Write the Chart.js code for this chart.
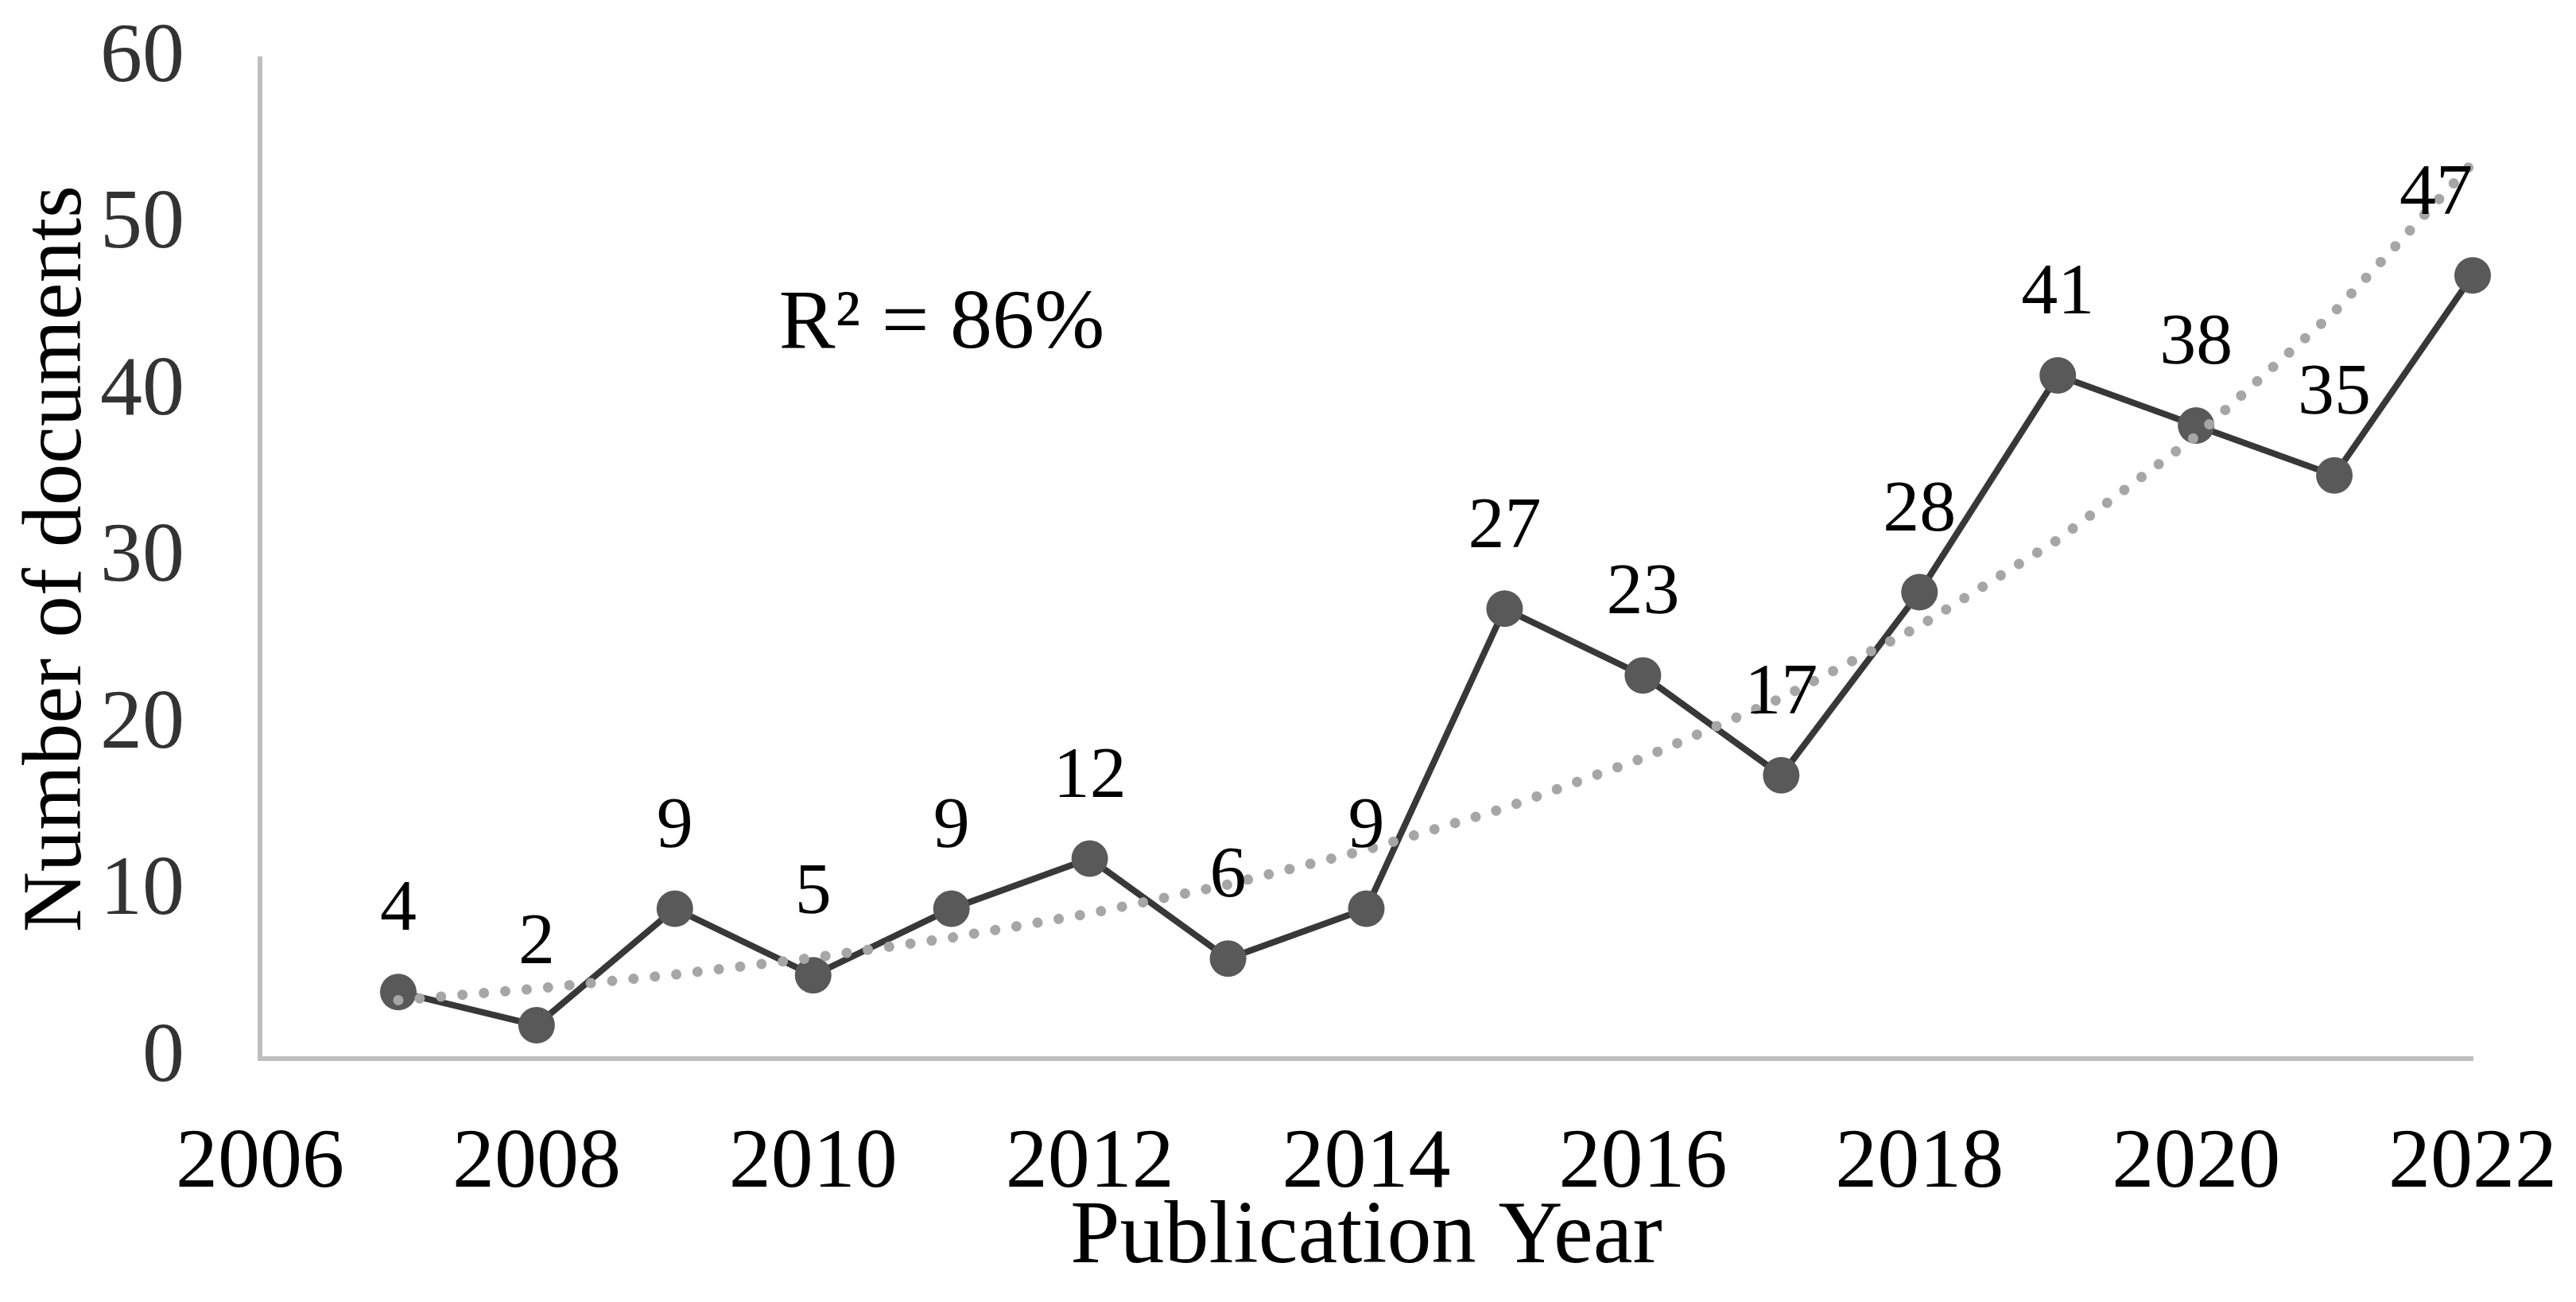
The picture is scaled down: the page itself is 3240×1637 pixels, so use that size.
<!DOCTYPE html>
<html lang="en">

<head>
    <meta charset="UTF-8">
    <meta name="viewport" content="width=device-width, initial-scale=1.0">
    <title>Number of documents per year</title>

    <script src="https://cdn.jsdelivr.net/npm/chart.js"></script>

    <style>
        html, body {
            margin: 0;
            padding: 0;
            background: #ffffff;
        }

        #grafico {
            display: block;
        }
    </style>
</head>

<body>
    <canvas id="grafico" width="3240" height="1637"></canvas>
</body>

<script>
    // data
    var anos = [2007, 2008, 2009, 2010, 2011, 2012, 2013, 2014, 2015, 2016, 2017, 2018, 2019, 2020, 2021, 2022];
    var documentos = [4, 2, 9, 5, 9, 12, 6, 9, 27, 23, 17, 28, 41, 38, 35, 47];
    var ticksX = [2006, 2008, 2010, 2012, 2014, 2016, 2018, 2020, 2022];
    var ticksY = [0, 10, 20, 30, 40, 50, 60];
    var textoR2 = 'R² = 86%';
    var posR2 = { x: 2010.93, y: 44.0 };

    var fonte = 'Liberation Serif, Times New Roman, serif';

    // exponential trendline (least squares on ln y), like the spreadsheet one
    function tendenciaExp(xs, ys) {
        var n = xs.length;
        var mx = 0, ml = 0;
        for (var i = 0; i < n; i++) {
            mx += xs[i];
            ml += Math.log(ys[i]);
        }
        mx = mx / n;
        ml = ml / n;
        var sxy = 0, sxx = 0;
        for (var j = 0; j < n; j++) {
            sxy += (xs[j] - mx) * (Math.log(ys[j]) - ml);
            sxx += (xs[j] - mx) * (xs[j] - mx);
        }
        var b = sxy / sxx;
        var a = ml - b * mx;
        return xs.map(function (x) { return Math.exp(a + b * x); });
    }

    var tendencia = tendenciaExp(anos, documentos);

    var pontos = anos.map(function (a, i) { return { x: a, y: documentos[i] }; });
    var pontosTendencia = anos.map(function (a, i) { return { x: a, y: tendencia[i] }; });

    // numbers above each point and the R² note
    var rotulos = {
        id: 'rotulos',
        afterDatasetsDraw: function (chart) {
            var ctx = chart.ctx;
            var meta = chart.getDatasetMeta(1);
            var direita = chart.chartArea.right;
            ctx.save();
            ctx.fillStyle = '#000000';
            ctx.textAlign = 'center';
            ctx.textBaseline = 'middle';
            ctx.font = '92px ' + fonte;
            meta.data.forEach(function (p, i) {
                var txt = String(documentos[i]);
                var meia = ctx.measureText(txt).width / 2;
                // keep the label inside the plot, like the last one in the picture
                var x = Math.min(p.x, direita - meia);
                ctx.fillText(txt, x, p.y - 102);
            });

            ctx.font = '106px ' + fonte;
            ctx.fillText(textoR2, chart.scales.x.getPixelForValue(posR2.x), chart.scales.y.getPixelForValue(posR2.y));
            ctx.restore();
        }
    };

    var ctx = document.getElementById('grafico').getContext('2d');
    var grafico = new Chart(ctx, {
        type: 'line',
        data: {
            datasets: [{
                label: 'Trend',
                data: pontosTendencia,
                borderColor: '#a6a6a6',
                borderWidth: 13,
                borderDash: [0.01, 27],
                borderCapStyle: 'round',
                pointRadius: 0,
                tension: 0,
                fill: false,
                clip: false,
                order: 0
            }, {
                label: 'Number of documents',
                data: pontos,
                borderColor: '#383838',
                borderWidth: 8,
                pointRadius: 23,
                pointBackgroundColor: '#595959',
                pointBorderWidth: 0,
                tension: 0,
                fill: false,
                clip: false,
                order: 1
            }]
        },
        options: {
            responsive: false,
            animation: false,
            layout: {
                padding: { top: 74, right: 130, bottom: 0, left: 0 }
            },
            plugins: {
                legend: { display: false },
                tooltip: { enabled: false }
            },
            scales: {
                x: {
                    type: 'linear',
                    min: ticksX[0],
                    max: ticksX[ticksX.length - 1],
                    afterBuildTicks: function (scale) {
                        scale.ticks = ticksX.map(function (v) { return { value: v }; });
                    },
                    afterFit: function (scale) {
                        scale.height = 306;
                        scale.paddingLeft = 0;
                        scale.paddingRight = 0;
                    },
                    grid: { display: false, drawTicks: false },
                    border: { display: true, color: '#bfbfbf', width: 6 },
                    ticks: {
                        padding: 70,
                        color: '#000000',
                        maxRotation: 0,
                        autoSkip: false,
                        font: { family: fonte, size: 106 },
                        callback: function (v) { return String(v); }
                    },
                    title: {
                        display: true,
                        text: 'Publication Year',
                        color: '#000000',
                        font: { family: fonte, size: 112 },
                        padding: { top: 0, bottom: 12 }
                    }
                },
                y: {
                    min: ticksY[0],
                    max: ticksY[ticksY.length - 1],
                    afterBuildTicks: function (scale) {
                        scale.ticks = ticksY.map(function (v) { return { value: v }; });
                    },
                    afterFit: function (scale) {
                        scale.width = 327;
                        scale.paddingTop = 0;
                        scale.paddingBottom = 0;
                    },
                    grid: { display: false, drawTicks: false },
                    border: { display: true, color: '#bfbfbf', width: 6 },
                    ticks: {
                        padding: 95,
                        color: '#333333',
                        font: { family: fonte, size: 106 },
                        callback: function (v) { return String(v); }
                    },
                    title: {
                        display: true,
                        text: 'Number of documents',
                        color: '#000000',
                        font: { family: fonte, size: 105 },
                        padding: { top: 10, bottom: 0 }
                    }
                }
            }
        },
        plugins: [rotulos]
    });
</script>

</html>
